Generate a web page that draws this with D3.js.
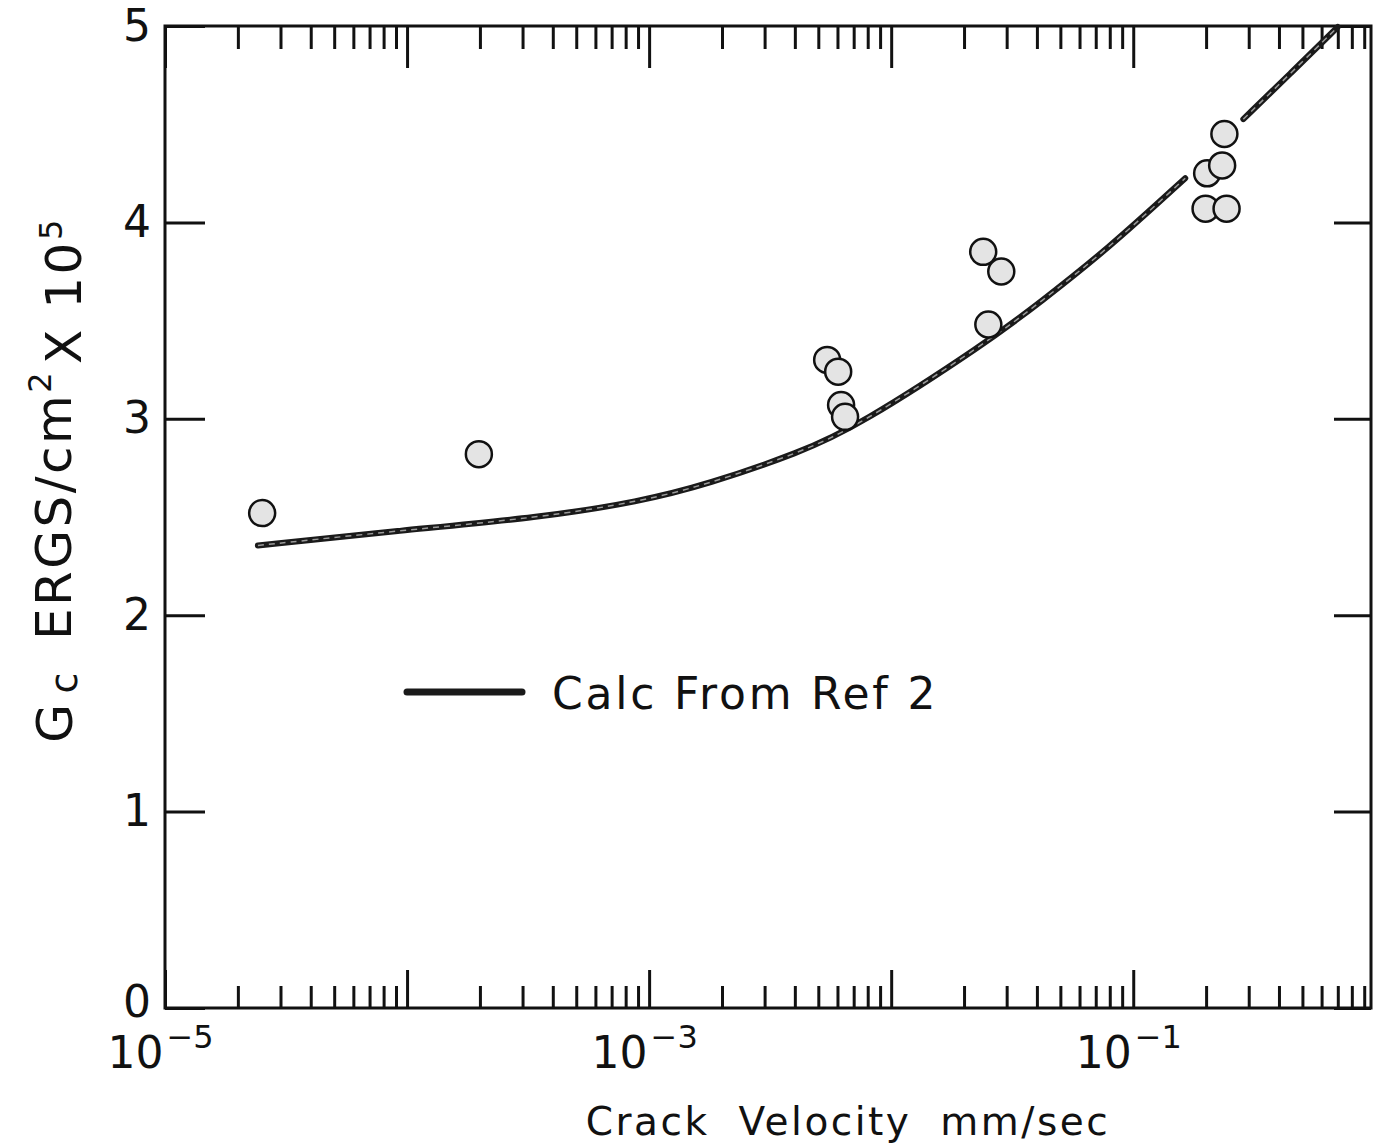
<!DOCTYPE html>
<html>
<head>
<meta charset="utf-8">
<script src="https://cdn.jsdelivr.net/npm/d3@7"></script>
<style>
  html, body { margin: 0; padding: 0; background: #fff; }
  svg { display: block; }
  text { font-family: "DejaVu Sans", "Liberation Sans", sans-serif; fill: #111; }
</style>
</head>
<body>
<svg id="chart" width="1378" height="1148"></svg>
<script>
// ---- data ----
const pointVelocity = [2.52e-5, 1.98e-4, 5.44e-3, 6.04e-3, 6.21e-3, 6.45e-3, 0.0240, 0.0285, 0.0252, 0.238, 0.202, 0.233, 0.199, 0.243];
const pointGc       = [2.52,    2.82,    3.30,    3.24,    3.07,    3.01,    3.85,   3.75,   3.48,   4.45,  4.25,  4.29,  4.07,  4.07];

const calcVelocity = [2.42e-5, 9.35e-5, 3.55e-4, 9.18e-4, 1.74e-3, 4.21e-3, 7.24e-3, 0.0249, 0.0413, 0.0782, 0.164, 0.22, 0.285, 0.446, 0.70];
const calcGc       = [2.355,   2.431,   2.497,   2.579,   2.666,   2.829,   2.961,   3.389,  3.594,  3.863,  4.225, null, 4.526, 4.758, 4.995];

const yTicks = [0, 1, 2, 3, 4, 5];
const xMajorTicks = [1e-5, 1e-4, 1e-3, 1e-2, 1e-1];
const xLabelTicks = [1e-5, 1e-3, 1e-1];
const legendLabel = "Calc From Ref 2";
const xTitle = "Crack Velocity mm/sec";

// ---- layout ----
const svg = d3.select("#chart");
const mLeft = 165, mRight = 1371, mTop = 26, mBottom = 1008;

const x = d3.scaleLog().domain([1e-5, 0.96]).range([mLeft, mRight]);
const y = d3.scaleLinear().domain([0, 5]).range([mBottom, mTop]);

const xMinorTicks = [];
for (let e = -5; e <= -1; e++) {
  for (let m = 2; m <= 9; m++) {
    const v = m * Math.pow(10, e);
    if (v <= 0.96) xMinorTicks.push(v);
  }
}

const axisStroke = 3;

function styleAxis(g) {
  g.select(".domain").remove();
  g.selectAll(".tick line").attr("stroke", "#111").attr("stroke-width", axisStroke);
}

// bottom axis: ticks pointing up (inward)
svg.append("g").attr("transform", `translate(0,${mBottom})`)
  .call(d3.axisBottom(x).tickValues(xMinorTicks).tickSize(-22).tickFormat(""))
  .call(styleAxis);
const xMajor = svg.append("g").attr("transform", `translate(0,${mBottom})`)
  .call(d3.axisBottom(x).tickValues(xMajorTicks).tickSize(-38)
    .tickFormat(d => xLabelTicks.includes(d) ? "10" : ""))
  .call(styleAxis);
// base "10" and a separate superscript exponent for each labelled decade
xMajor.selectAll(".tick text")
  .attr("font-size", 44).attr("fill", "#111")
  .attr("text-anchor", "end").attr("x", -2).attr("y", 60).attr("dy", null);
xMajor.selectAll(".tick").filter(d => xLabelTicks.includes(d))
  .append("text")
  .attr("x", 1).attr("y", 40)
  .attr("font-size", 32).attr("fill", "#111").attr("text-anchor", "start")
  .text(d => "\u2212" + Math.round(-Math.log10(d)));

// top axis: ticks pointing down (inward)
svg.append("g").attr("transform", `translate(0,${mTop})`)
  .call(d3.axisTop(x).tickValues(xMinorTicks).tickSize(-23).tickFormat(""))
  .call(styleAxis);
svg.append("g").attr("transform", `translate(0,${mTop})`)
  .call(d3.axisTop(x).tickValues(xMajorTicks).tickSize(-42).tickFormat(""))
  .call(styleAxis);

// left axis: ticks pointing right (inward)
const yLeft = svg.append("g").attr("transform", `translate(${mLeft},0)`)
  .call(d3.axisLeft(y).tickValues(yTicks).tickSize(-40).tickFormat(d3.format("d")))
  .call(styleAxis);
yLeft.selectAll(".tick text").attr("font-size", 44).attr("fill", "#111").attr("x", -14)
  .attr("y", d => d === 0 ? -6 : 0);

// right axis: ticks pointing left (inward)
svg.append("g").attr("transform", `translate(${mRight},0)`)
  .call(d3.axisRight(y).tickValues(yTicks).tickSize(-37).tickFormat(""))
  .call(styleAxis);

// frame
svg.append("rect")
  .attr("x", mLeft).attr("y", mTop)
  .attr("width", mRight - mLeft).attr("height", mBottom - mTop)
  .attr("fill", "none").attr("stroke", "#111").attr("stroke-width", axisStroke);

// calculated curve
const calcData = calcVelocity.map((v, i) => ({ v, g: calcGc[i] }));
const line = d3.line()
  .defined(d => d.g !== null)
  .x(d => x(d.v)).y(d => y(d.g))
  .curve(d3.curveBasis);
svg.append("path").datum(calcData)
  .attr("d", line)
  .attr("fill", "none").attr("stroke", "#1a1a1a").attr("stroke-width", 6).attr("stroke-linecap", "round");
svg.append("path").datum(calcData)
  .attr("d", line)
  .attr("fill", "none").attr("stroke", "#9a9a9a").attr("stroke-width", 1.5).attr("stroke-dasharray", "6 5");

// data points
const pts = pointVelocity.map((v, i) => ({ v, g: pointGc[i] }));
svg.append("g").selectAll("circle").data(pts).join("circle")
  .attr("cx", d => x(d.v)).attr("cy", d => y(d.g)).attr("r", 13)
  .attr("fill", "#e4e4e4").attr("stroke", "#111").attr("stroke-width", 2.5);

// legend
svg.append("line")
  .attr("x1", 407).attr("x2", 522).attr("y1", 692).attr("y2", 692)
  .attr("stroke", "#1a1a1a").attr("stroke-width", 7).attr("stroke-linecap", "round");
svg.append("text").attr("x", 552).attr("y", 709)
  .attr("font-size", 44).attr("letter-spacing", 2.8).text(legendLabel);

// x-axis title
svg.append("text").attr("x", 848).attr("y", 1135).attr("text-anchor", "middle")
  .attr("font-size", 39).attr("word-spacing", 14).attr("letter-spacing", 2.5).text(xTitle);

// y-axis title (rotated)
const yt = svg.append("text")
  .attr("transform", "translate(72,480) rotate(-90)")
  .attr("text-anchor", "middle").attr("font-size", 50).attr("letter-spacing", 2.5);
yt.append("tspan").text("G");
yt.append("tspan").text("c").attr("font-size", 38).attr("dy", "0.12em").attr("dx", 8);
yt.append("tspan").text("ERGS/cm").attr("dy", "-0.12em").attr("dx", 30);
yt.append("tspan").text("2").attr("font-size", 32).attr("dy", "-0.6em");
yt.append("tspan").text("X 10").attr("dy", "0.6em").attr("dx", 6);
yt.append("tspan").text("5").attr("font-size", 32).attr("dy", "-0.6em");
</script>
</body>
</html>
